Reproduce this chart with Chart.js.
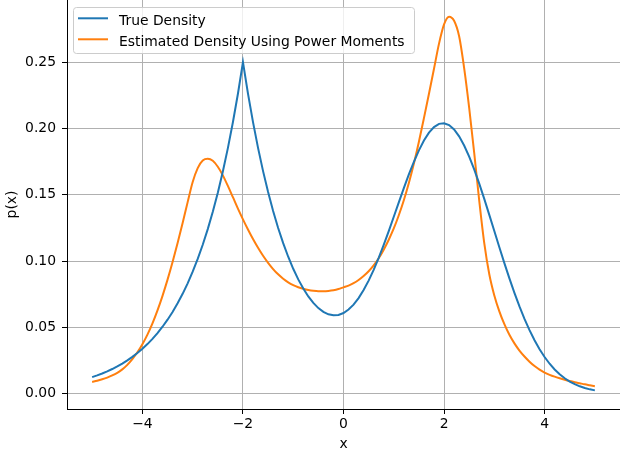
<!DOCTYPE html>
<html>
<head>
<meta charset="utf-8">
<script src="https://cdn.jsdelivr.net/npm/chart.js@4.4.1/dist/chart.umd.min.js"></script>
<style>
  html, body { margin: 0; padding: 0; background: #fff; }
  #chart { display: block; }
</style>
</head>
<body>
<canvas id="chart" width="620" height="457"></canvas>
<script>
// sample points along x
const xs = [
  -5.0, -4.9, -4.8, -4.7, -4.6, -4.5, -4.4, -4.3, -4.2, -4.1,
  -4.0, -3.9, -3.8, -3.7, -3.6, -3.5, -3.4, -3.3, -3.2, -3.1,
  -3.0, -2.9, -2.8, -2.7, -2.6, -2.5, -2.4, -2.3, -2.2, -2.1,
  -2.0, -1.9, -1.8, -1.7, -1.6, -1.5, -1.4, -1.3, -1.2, -1.1,
  -1.0, -0.9, -0.8, -0.7, -0.6, -0.5, -0.4, -0.3, -0.2, -0.1,
   0.0,  0.1,  0.2,  0.3,  0.4,  0.5,  0.6,  0.7,  0.8,  0.9,
   1.0,  1.1,  1.2,  1.3,  1.4,  1.5,  1.6,  1.7,  1.8,  1.9,
   2.0,  2.1,  2.2,  2.3,  2.4,  2.5,  2.6,  2.7,  2.8,  2.9,
   3.0,  3.1,  3.2,  3.3,  3.4,  3.5,  3.6,  3.7,  3.8,  3.9,
   4.0,  4.1,  4.2,  4.3,  4.4,  4.5,  4.6,  4.7,  4.8,  4.9,
   5.0
];

const trueDensity = [
  0.01245, 0.01376, 0.01520, 0.01680, 0.01857, 0.02052, 0.02268, 0.02507, 0.02770, 0.03061,
  0.03383, 0.03739, 0.04133, 0.04567, 0.05047, 0.05578, 0.06165, 0.06813, 0.07530, 0.08322,
  0.09197, 0.10164, 0.11233, 0.12415, 0.13720, 0.15164, 0.16759, 0.18522, 0.20471, 0.22625,
  0.25007, 0.22631, 0.20483, 0.18542, 0.16789, 0.15207, 0.13782, 0.12501, 0.11352, 0.10328,
  0.09419, 0.08619, 0.07926, 0.07334, 0.06844, 0.06455, 0.06167, 0.05983, 0.05906, 0.05938,
  0.06083, 0.06342, 0.06718, 0.07209, 0.07814, 0.08528, 0.09343, 0.10249, 0.11230, 0.12268,
  0.13343, 0.14430, 0.15504, 0.16535, 0.17494, 0.18358, 0.19097, 0.19688, 0.20111, 0.20354,
  0.20405, 0.20262, 0.19927, 0.19409, 0.18720, 0.17881, 0.16913, 0.15840, 0.14690, 0.13490,
  0.12267, 0.11045, 0.09847, 0.08693, 0.07599, 0.06578, 0.05639, 0.04786, 0.04023, 0.03349,
  0.02762, 0.02255, 0.01824, 0.01462, 0.01161, 0.00914, 0.00713, 0.00552, 0.00424, 0.00323,
  0.00244
];

const estimatedDensity = [
  0.0088, 0.0097, 0.0108, 0.0121, 0.0137, 0.0157, 0.0183, 0.0217, 0.0260, 0.0312,
  0.0373, 0.0445, 0.0530, 0.0628, 0.0738, 0.0860, 0.0993, 0.1136, 0.1288, 0.1445,
  0.1597, 0.1702, 0.1759, 0.1772, 0.1757, 0.1712, 0.1647, 0.1567, 0.1482, 0.1396,
  0.1315, 0.1238, 0.1166, 0.1100, 0.1040, 0.0987, 0.0940, 0.0900, 0.0867, 0.0840,
  0.0819, 0.0803, 0.0791, 0.0782, 0.0776, 0.0773, 0.0773, 0.0775, 0.0780, 0.0789,
  0.0802, 0.0815, 0.0833, 0.0857, 0.0887, 0.0923, 0.0967, 0.1021, 0.1086, 0.1161,
  0.1246, 0.1346, 0.1459, 0.1589, 0.1736, 0.1901, 0.2079, 0.2263, 0.2451, 0.2641,
  0.2786, 0.2844, 0.2813, 0.2696, 0.2456, 0.2156, 0.1816, 0.1456, 0.1136, 0.0901,
  0.0741, 0.0621, 0.0524, 0.0444, 0.0379, 0.0325, 0.0280, 0.0241, 0.0208, 0.0181,
  0.0159, 0.0142, 0.0128, 0.0116, 0.0105, 0.0095, 0.0086, 0.0078, 0.0070, 0.0063,
  0.0056
];

const xTicks = [-4, -2, 0, 2, 4];
const xTickLabels = ['\u22124', '\u22122', '0', '2', '4'];
const yTicks = [0, 0.05, 0.10, 0.15, 0.20, 0.25];
const yTickLabels = ['0.00', '0.05', '0.10', '0.15', '0.20', '0.25'];
const seriesNames = ['True Density', 'Estimated Density Using Power Moments'];
const seriesColors = ['#1f77b4', '#ff7f0e'];

const FONT = 'DejaVu Sans';
const FONT_SIZE = 13.9;

// matplotlib-like legend: framed box in the upper left of the axes
const boxLegend = {
  id: 'boxLegend',
  afterDatasetsDraw(chart) {
    const ctx = chart.ctx;
    const { left, top } = chart.chartArea;
    const x0 = left + 6, y0 = top + 7, w = 341, h = 46;
    ctx.save();
    ctx.beginPath();
    if (ctx.roundRect) ctx.roundRect(x0 + 0.5, y0 + 0.5, w, h, 3);
    else ctx.rect(x0 + 0.5, y0 + 0.5, w, h);
    ctx.fillStyle = 'rgba(255,255,255,0.8)';
    ctx.fill();
    ctx.strokeStyle = '#cccccc';
    ctx.lineWidth = 1;
    ctx.stroke();

    ctx.font = FONT_SIZE + 'px "' + FONT + '"';
    ctx.textBaseline = 'alphabetic';
    ctx.textAlign = 'left';
    chart.data.datasets.forEach((ds, i) => {
      const cy = y0 + 11.3 + i * 21;
      ctx.beginPath();
      ctx.moveTo(x0 + 5, cy);
      ctx.lineTo(x0 + 35, cy);
      ctx.strokeStyle = ds.borderColor;
      ctx.lineWidth = 2;
      ctx.stroke();
      ctx.fillStyle = '#000';
      ctx.fillText(ds.label, x0 + 46, cy + 6.2);
    });
    ctx.restore();
  }
};

const tickFont = { family: FONT, size: FONT_SIZE };

new Chart(document.getElementById('chart'), {
  type: 'line',
  data: {
    datasets: [
      {
        label: seriesNames[0],
        data: xs.map((x, i) => ({ x: x, y: trueDensity[i] })),
        borderColor: seriesColors[0],
        borderWidth: 2,
        pointRadius: 0,
        tension: 0,        // keep the sharp peak at x = -2
        fill: false
      },
      {
        label: seriesNames[1],
        data: xs.map((x, i) => ({ x: x, y: estimatedDensity[i] })),
        borderColor: seriesColors[1],
        borderWidth: 2,
        pointRadius: 0,
        cubicInterpolationMode: 'monotone',
        fill: false
      }
    ]
  },
  options: {
    responsive: false,
    animation: false,
    devicePixelRatio: 1,
    layout: { padding: 0 },
    plugins: {
      legend: { display: false },
      tooltip: { enabled: false }
    },
    scales: {
      x: {
        type: 'linear',
        min: -5.5,
        max: 5.5,
        afterBuildTicks: s => { s.ticks = xTicks.map(v => ({ value: v })); },
        afterFit: s => { s.height = 48; s.paddingLeft = 0; s.paddingRight = 0; },
        grid: { color: '#b0b0b0', lineWidth: 1, tickColor: '#000', tickLength: 5, tickWidth: 1 },
        border: { color: '#000', width: 1 },
        ticks: {
          color: '#000',
          font: tickFont,
          padding: 2,
          maxRotation: 0,
          autoSkip: false,
          callback: (v, i) => xTickLabels[i]
        },
        title: { display: true, text: 'x', color: '#000', font: tickFont }
      },
      y: {
        type: 'linear',
        min: -0.0116,
        max: 0.297,
        afterBuildTicks: s => { s.ticks = yTicks.map(v => ({ value: v })); },
        afterFit: s => { s.width = 67; s.paddingTop = 0; s.paddingBottom = 0; },
        grid: { color: '#b0b0b0', lineWidth: 1, tickColor: '#000', tickLength: 5, tickWidth: 1 },
        border: { color: '#000', width: 1 },
        ticks: {
          color: '#000',
          font: tickFont,
          padding: 6,
          autoSkip: false,
          callback: (v, i) => yTickLabels[i]
        },
        title: { display: true, text: 'p(x)', color: '#000', font: tickFont }
      }
    }
  },
  plugins: [boxLegend]
});
</script>
</body>
</html>
